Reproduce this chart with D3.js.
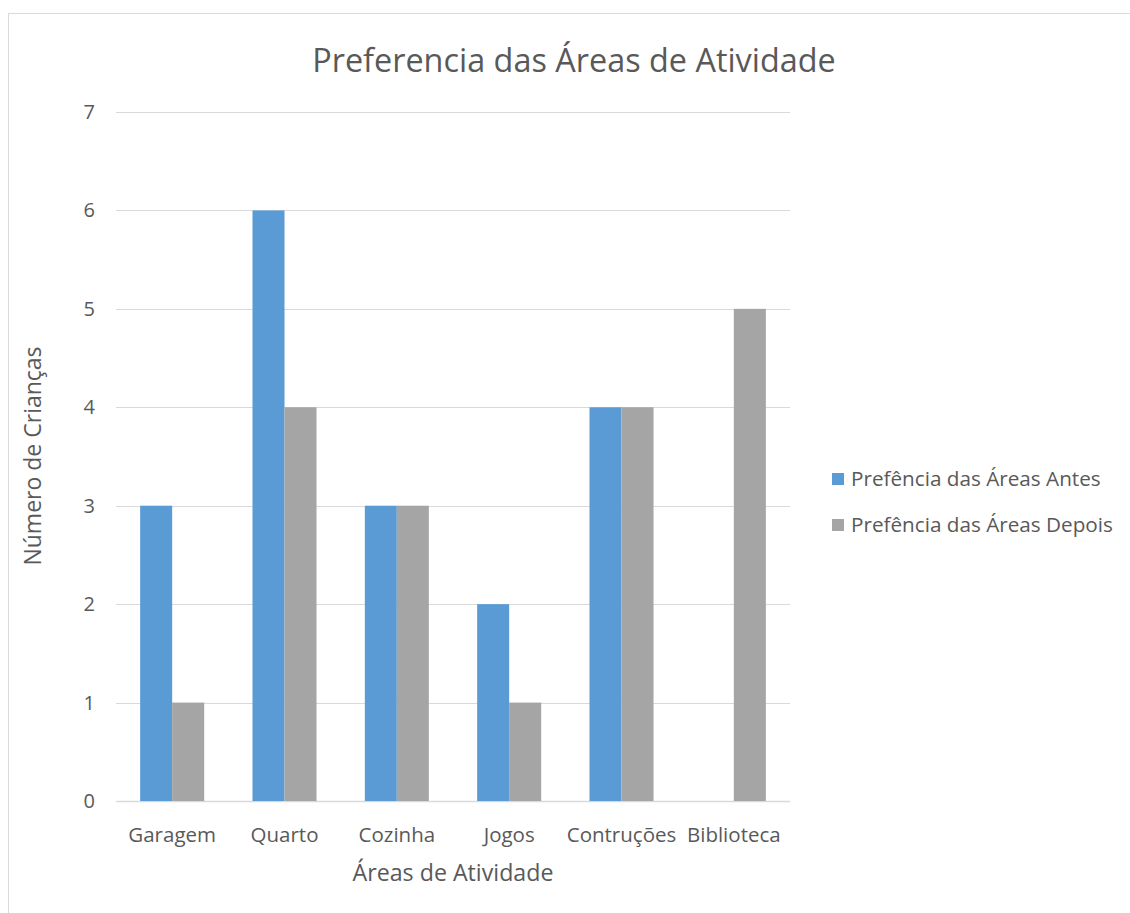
<!DOCTYPE html>
<html>
<head>
<meta charset="utf-8">
<script src="https://cdn.jsdelivr.net/npm/d3@7"></script>
<style>
  body { margin: 0; background: #fff; }
  text { font-family: "Open Sans", "Noto Sans", sans-serif; fill: #595959; }
</style>
</head>
<body>
<svg id="chart" width="1130" height="913"></svg>
<script>
// data
let categories = ["Garagem", "Quarto", "Cozinha", "Jogos", "Contruções", "Biblioteca"]
let antes = [3, 6, 3, 2, 4, 0]
let depois = [1, 4, 3, 1, 4, 5]
let seriesNames = ["Prefência das Áreas Antes", "Prefência das Áreas Depois"]
let yTicks = [0, 1, 2, 3, 4, 5, 6, 7]

let colors = ["#5B9BD5", "#A5A5A5"]

let svg = d3.select("#chart")

// outer border of the chart area
svg.append("rect")
  .attr("x", 8.5).attr("y", 13.5)
  .attr("width", 1140).attr("height", 920)
  .attr("fill", "none")
  .attr("stroke", "#D9D9D9")

let plotLeft = 116, plotRight = 790, plotTop = 112, plotBottom = 801

let x = d3.scaleBand()
  .domain(categories)
  .range([plotLeft, plotRight])
  .paddingInner(0.43)
  .paddingOuter(0.215)

let x1 = d3.scaleBand()
  .domain([0, 1])
  .range([0, x.bandwidth()])

let y = d3.scaleLinear()
  .domain([0, 7])
  .range([plotBottom, plotTop])

// gridlines
svg.append("g")
  .selectAll("line")
  .data(yTicks)
  .enter()
  .append("line")
  .attr("x1", plotLeft).attr("x2", plotRight)
  .attr("y1", d => Math.round(y(d)) + 0.5)
  .attr("y2", d => Math.round(y(d)) + 0.5)
  .attr("stroke", "#D9D9D9")
  .attr("stroke-width", d => d === 0 ? 1.5 : 1)

// y tick labels
svg.append("g")
  .selectAll("text")
  .data(yTicks)
  .enter()
  .append("text")
  .attr("x", 95)
  .attr("y", d => y(d))
  .attr("dy", "0.35em")
  .attr("text-anchor", "end")
  .style("font-size", "20px")
  .text(d => d)

// bars
let rows = categories.map((c, i) => ({ cat: c, vals: [antes[i], depois[i]] }))

let groups = svg.append("g")
  .selectAll("g")
  .data(rows)
  .enter()
  .append("g")
  .attr("transform", d => "translate(" + x(d.cat) + ",0)")

groups.selectAll("rect")
  .data(d => d.vals.map((v, k) => ({ k: k, v: v })))
  .enter()
  .append("rect")
  .attr("x", d => x1(d.k))
  .attr("width", x1.bandwidth())
  .attr("y", d => y(d.v))
  .attr("height", d => y(0) - y(d.v))
  .attr("fill", d => colors[d.k])

// x labels
svg.append("g")
  .selectAll("text")
  .data(categories)
  .enter()
  .append("text")
  .attr("x", d => x(d) + x.bandwidth() / 2)
  .attr("y", 842)
  .attr("text-anchor", "middle")
  .style("font-size", "20.5px")
  .text(d => d)

// title
svg.append("text")
  .attr("x", 574)
  .attr("y", 72)
  .attr("text-anchor", "middle")
  .style("font-size", "32.4px")
  .text("Preferencia das Áreas de Atividade")

// axis titles
svg.append("text")
  .attr("x", 453)
  .attr("y", 881)
  .attr("text-anchor", "middle")
  .style("font-size", "23.2px")
  .text("Áreas de Atividade")

svg.append("text")
  .attr("transform", "translate(41,456) rotate(-90)")
  .attr("text-anchor", "middle")
  .style("font-size", "23px")
  .text("Número de Crianças")

// legend
let legend = svg.append("g")
  .selectAll("g")
  .data(seriesNames)
  .enter()
  .append("g")
  .attr("transform", (d, i) => "translate(832," + (479 + i * 46) + ")")

legend.append("rect")
  .attr("x", 0).attr("y", -6)
  .attr("width", 12).attr("height", 12)
  .attr("fill", (d, i) => colors[i])

legend.append("text")
  .attr("x", 19)
  .attr("dy", "0.35em")
  .style("font-size", "20.7px")
  .text(d => d)
</script>
</body>
</html>
